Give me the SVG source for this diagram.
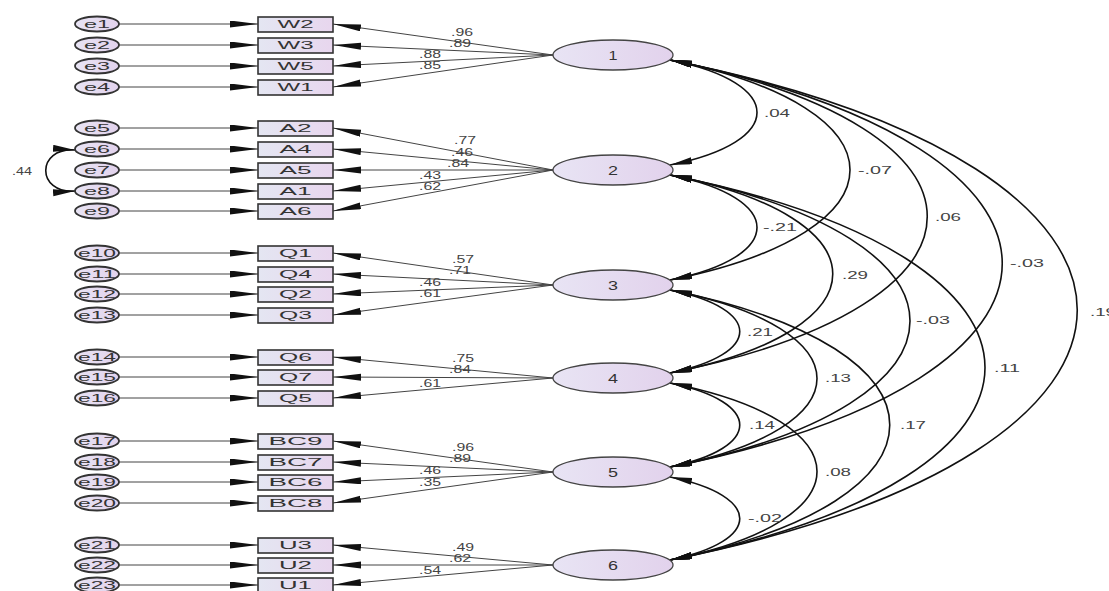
<svg xmlns="http://www.w3.org/2000/svg" width="1109" height="591" viewBox="0 0 1109 591">
<defs>
<linearGradient id="gb" x1="0" y1="0" x2="1" y2="0"><stop offset="0" stop-color="#e4e6f2"/><stop offset="1" stop-color="#e8d6ee"/></linearGradient>
<linearGradient id="ge" x1="0" y1="0" x2="1" y2="0"><stop offset="0" stop-color="#e8e4f4"/><stop offset="1" stop-color="#e2d2ec"/></linearGradient>
<marker id="arr" markerUnits="userSpaceOnUse" markerWidth="30" markerHeight="8" refX="28" refY="3.5" orient="auto"><path d="M0,0 L28,3.5 L0,7 z" fill="#111"/></marker>
<marker id="cov" markerUnits="userSpaceOnUse" markerWidth="24" markerHeight="8" refX="22" refY="3.5" orient="auto-start-reverse"><path d="M0,0 L22,3.5 L0,7 z" fill="#111"/></marker>
</defs>
<style>
.err{fill:url(#ge);stroke:#333;stroke-width:1.8}
.box{fill:url(#gb);stroke:#333;stroke-width:1.6}
.lat{fill:url(#ge);stroke:#444;stroke-width:1.3}
.t{font-family:"Liberation Sans",Arial,sans-serif;font-size:10px;fill:#333;text-anchor:middle}
.tb{font-family:"Liberation Sans",Arial,sans-serif;font-size:11px;fill:#333;text-anchor:middle}
.tf{font-family:"Liberation Sans",Arial,sans-serif;font-size:12px;fill:#333;text-anchor:middle}
.tl{font-family:"Liberation Sans",Arial,sans-serif;font-size:10px;fill:#444;text-anchor:middle}
.ln{stroke:#444;stroke-width:1;fill:none;marker-end:url(#arr)}
.cv{stroke:#111;stroke-width:1.6;fill:none;marker-start:url(#cov);marker-end:url(#cov)}
</style>
<rect width="1109" height="591" fill="#fff"/>
<g id="connectors">
<path class="ln" d="M119,24 H258"/><path class="ln" d="M119,45 H258"/><path class="ln" d="M119,66 H258"/><path class="ln" d="M119,87 H258"/>
<path class="ln" d="M119,128 H258"/><path class="ln" d="M119,149 H258"/><path class="ln" d="M119,170 H258"/><path class="ln" d="M119,191 H258"/><path class="ln" d="M119,211 H258"/>
<path class="ln" d="M119,253 H258"/><path class="ln" d="M119,274 H258"/><path class="ln" d="M119,294 H258"/><path class="ln" d="M119,315 H258"/>
<path class="ln" d="M119,357 H258"/><path class="ln" d="M119,377 H258"/><path class="ln" d="M119,398 H258"/>
<path class="ln" d="M119,441 H258"/><path class="ln" d="M119,462 H258"/><path class="ln" d="M119,482 H258"/><path class="ln" d="M119,503 H258"/>
<path class="ln" d="M119,545 H258"/><path class="ln" d="M119,565 H258"/><path class="ln" d="M119,585 H258"/>
<path class="ln" d="M553,55 L333,24"/><path class="ln" d="M553,55 L333,45"/><path class="ln" d="M553,55 L333,66"/><path class="ln" d="M553,55 L333,87"/>
<path class="ln" d="M553,170 L333,128"/><path class="ln" d="M553,170 L333,149"/><path class="ln" d="M553,170 L333,170"/><path class="ln" d="M553,170 L333,191"/><path class="ln" d="M553,170 L333,211"/>
<path class="ln" d="M553,285 L333,253"/><path class="ln" d="M553,285 L333,274"/><path class="ln" d="M553,285 L333,294"/><path class="ln" d="M553,285 L333,315"/>
<path class="ln" d="M553,378 L333,357"/><path class="ln" d="M553,378 L333,377"/><path class="ln" d="M553,378 L333,398"/>
<path class="ln" d="M553,472 L333,441"/><path class="ln" d="M553,472 L333,462"/><path class="ln" d="M553,472 L333,482"/><path class="ln" d="M553,472 L333,503"/>
<path class="ln" d="M553,565 L333,545"/><path class="ln" d="M553,565 L333,565"/><path class="ln" d="M553,565 L333,585"/>
<path class="cv" d="M75,150 C36,147 36,194 75,191"/>
<path class="cv" d="M670,60 C786,83 786,142 670,165"/>
<path class="cv" d="M670,60 C910,108 910,232 670,280"/>
<path class="cv" d="M670,60 C1013,129 1013,304 670,373"/>
<path class="cv" d="M670,60 C1113,149 1113,378 670,467"/>
<path class="cv" d="M670,60 C1213,169 1213,451 670,560"/>
<path class="cv" d="M670,175 C786,198 786,257 670,280"/>
<path class="cv" d="M670,175 C887,218 887,330 670,373"/>
<path class="cv" d="M670,175 C990,239 990,403 670,467"/>
<path class="cv" d="M670,175 C1090,259 1090,476 670,560"/>
<path class="cv" d="M670,290 C763,309 763,354 670,373"/>
<path class="cv" d="M670,290 C866,329 866,428 670,467"/>
<path class="cv" d="M670,290 C963,349 963,501 670,560"/>
<path class="cv" d="M670,383 C763,402 763,448 670,467"/>
<path class="cv" d="M670,383 C866,422 866,521 670,560"/>
<path class="cv" d="M670,477 C763,496 763,541 670,560"/>
<g class="tl">
<text x="462" y="36" textLength="22" lengthAdjust="spacingAndGlyphs">.96</text>
<text x="460" y="47" textLength="22" lengthAdjust="spacingAndGlyphs">.89</text>
<text x="430" y="58" textLength="22" lengthAdjust="spacingAndGlyphs">.88</text>
<text x="430" y="69" textLength="22" lengthAdjust="spacingAndGlyphs">.85</text>
<text x="465" y="144" textLength="22" lengthAdjust="spacingAndGlyphs">.77</text>
<text x="462" y="156" textLength="22" lengthAdjust="spacingAndGlyphs">.46</text>
<text x="458" y="167" textLength="22" lengthAdjust="spacingAndGlyphs">.84</text>
<text x="430" y="179" textLength="22" lengthAdjust="spacingAndGlyphs">.43</text>
<text x="430" y="190" textLength="22" lengthAdjust="spacingAndGlyphs">.62</text>
<text x="463" y="263" textLength="22" lengthAdjust="spacingAndGlyphs">.57</text>
<text x="460" y="274" textLength="22" lengthAdjust="spacingAndGlyphs">.71</text>
<text x="430" y="286" textLength="22" lengthAdjust="spacingAndGlyphs">.46</text>
<text x="430" y="297" textLength="22" lengthAdjust="spacingAndGlyphs">.61</text>
<text x="463" y="362" textLength="22" lengthAdjust="spacingAndGlyphs">.75</text>
<text x="460" y="373" textLength="22" lengthAdjust="spacingAndGlyphs">.84</text>
<text x="430" y="387" textLength="22" lengthAdjust="spacingAndGlyphs">.61</text>
<text x="463" y="451" textLength="22" lengthAdjust="spacingAndGlyphs">.96</text>
<text x="460" y="462" textLength="22" lengthAdjust="spacingAndGlyphs">.89</text>
<text x="430" y="474" textLength="22" lengthAdjust="spacingAndGlyphs">.46</text>
<text x="430" y="486" textLength="22" lengthAdjust="spacingAndGlyphs">.35</text>
<text x="463" y="551" textLength="22" lengthAdjust="spacingAndGlyphs">.49</text>
<text x="460" y="562" textLength="22" lengthAdjust="spacingAndGlyphs">.62</text>
<text x="430" y="574" textLength="22" lengthAdjust="spacingAndGlyphs">.54</text>
<text x="22" y="175" textLength="20" lengthAdjust="spacingAndGlyphs">.44</text>
<text x="777" y="117" textLength="26" lengthAdjust="spacingAndGlyphs">.04</text>
<text x="875" y="174" textLength="34" lengthAdjust="spacingAndGlyphs">-.07</text>
<text x="948" y="221" textLength="26" lengthAdjust="spacingAndGlyphs">.06</text>
<text x="1027" y="267" textLength="34" lengthAdjust="spacingAndGlyphs">-.03</text>
<text x="1103" y="316" textLength="26" lengthAdjust="spacingAndGlyphs">.19</text>
<text x="780" y="231" textLength="34" lengthAdjust="spacingAndGlyphs">-.21</text>
<text x="855" y="279" textLength="26" lengthAdjust="spacingAndGlyphs">.29</text>
<text x="933" y="324" textLength="34" lengthAdjust="spacingAndGlyphs">-.03</text>
<text x="1007" y="372" textLength="26" lengthAdjust="spacingAndGlyphs">.11</text>
<text x="760" y="336" textLength="26" lengthAdjust="spacingAndGlyphs">.21</text>
<text x="838" y="382" textLength="26" lengthAdjust="spacingAndGlyphs">.13</text>
<text x="913" y="429" textLength="26" lengthAdjust="spacingAndGlyphs">.17</text>
<text x="762" y="429" textLength="26" lengthAdjust="spacingAndGlyphs">.14</text>
<text x="838" y="476" textLength="26" lengthAdjust="spacingAndGlyphs">.08</text>
<text x="765" y="522" textLength="34" lengthAdjust="spacingAndGlyphs">-.02</text>
</g>
</g>
<g id="e1"><ellipse class="err" cx="97" cy="24" rx="22" ry="7.5"/><text class="tb" x="97" y="28" textLength="26" lengthAdjust="spacingAndGlyphs">e1</text></g>
<g id="e2"><ellipse class="err" cx="97" cy="45" rx="22" ry="7.5"/><text class="tb" x="97" y="49" textLength="26" lengthAdjust="spacingAndGlyphs">e2</text></g>
<g id="e3"><ellipse class="err" cx="97" cy="66" rx="22" ry="7.5"/><text class="tb" x="97" y="70" textLength="26" lengthAdjust="spacingAndGlyphs">e3</text></g>
<g id="e4"><ellipse class="err" cx="97" cy="87" rx="22" ry="7.5"/><text class="tb" x="97" y="91" textLength="26" lengthAdjust="spacingAndGlyphs">e4</text></g>
<g id="e5"><ellipse class="err" cx="97" cy="128" rx="22" ry="7.5"/><text class="tb" x="97" y="132" textLength="26" lengthAdjust="spacingAndGlyphs">e5</text></g>
<g id="e6"><ellipse class="err" cx="97" cy="149" rx="22" ry="7.5"/><text class="tb" x="97" y="153" textLength="26" lengthAdjust="spacingAndGlyphs">e6</text></g>
<g id="e7"><ellipse class="err" cx="97" cy="170" rx="22" ry="7.5"/><text class="tb" x="97" y="174" textLength="26" lengthAdjust="spacingAndGlyphs">e7</text></g>
<g id="e8"><ellipse class="err" cx="97" cy="191" rx="22" ry="7.5"/><text class="tb" x="97" y="195" textLength="26" lengthAdjust="spacingAndGlyphs">e8</text></g>
<g id="e9"><ellipse class="err" cx="97" cy="211" rx="22" ry="7.5"/><text class="tb" x="97" y="215" textLength="26" lengthAdjust="spacingAndGlyphs">e9</text></g>
<g id="e10"><ellipse class="err" cx="97" cy="253" rx="22" ry="7.5"/><text class="tb" x="97" y="257" textLength="38" lengthAdjust="spacingAndGlyphs">e10</text></g>
<g id="e11"><ellipse class="err" cx="97" cy="274" rx="22" ry="7.5"/><text class="tb" x="97" y="278" textLength="38" lengthAdjust="spacingAndGlyphs">e11</text></g>
<g id="e12"><ellipse class="err" cx="97" cy="294" rx="22" ry="7.5"/><text class="tb" x="97" y="298" textLength="38" lengthAdjust="spacingAndGlyphs">e12</text></g>
<g id="e13"><ellipse class="err" cx="97" cy="315" rx="22" ry="7.5"/><text class="tb" x="97" y="319" textLength="38" lengthAdjust="spacingAndGlyphs">e13</text></g>
<g id="e14"><ellipse class="err" cx="97" cy="357" rx="22" ry="7.5"/><text class="tb" x="97" y="361" textLength="38" lengthAdjust="spacingAndGlyphs">e14</text></g>
<g id="e15"><ellipse class="err" cx="97" cy="377" rx="22" ry="7.5"/><text class="tb" x="97" y="381" textLength="38" lengthAdjust="spacingAndGlyphs">e15</text></g>
<g id="e16"><ellipse class="err" cx="97" cy="398" rx="22" ry="7.5"/><text class="tb" x="97" y="402" textLength="38" lengthAdjust="spacingAndGlyphs">e16</text></g>
<g id="e17"><ellipse class="err" cx="97" cy="441" rx="22" ry="7.5"/><text class="tb" x="97" y="445" textLength="38" lengthAdjust="spacingAndGlyphs">e17</text></g>
<g id="e18"><ellipse class="err" cx="97" cy="462" rx="22" ry="7.5"/><text class="tb" x="97" y="466" textLength="38" lengthAdjust="spacingAndGlyphs">e18</text></g>
<g id="e19"><ellipse class="err" cx="97" cy="482" rx="22" ry="7.5"/><text class="tb" x="97" y="486" textLength="38" lengthAdjust="spacingAndGlyphs">e19</text></g>
<g id="e20"><ellipse class="err" cx="97" cy="503" rx="22" ry="7.5"/><text class="tb" x="97" y="507" textLength="38" lengthAdjust="spacingAndGlyphs">e20</text></g>
<g id="e21"><ellipse class="err" cx="97" cy="545" rx="22" ry="7.5"/><text class="tb" x="97" y="549" textLength="38" lengthAdjust="spacingAndGlyphs">e21</text></g>
<g id="e22"><ellipse class="err" cx="97" cy="565" rx="22" ry="7.5"/><text class="tb" x="97" y="569" textLength="38" lengthAdjust="spacingAndGlyphs">e22</text></g>
<g id="e23"><ellipse class="err" cx="97" cy="585" rx="22" ry="7.5"/><text class="tb" x="97" y="589" textLength="38" lengthAdjust="spacingAndGlyphs">e23</text></g>
<g id="W2"><rect class="box" x="258" y="17" width="75" height="15"/><text class="t" x="295.5" y="28" textLength="36" lengthAdjust="spacingAndGlyphs">W2</text></g>
<g id="W3"><rect class="box" x="258" y="38" width="75" height="15"/><text class="t" x="295.5" y="49" textLength="36" lengthAdjust="spacingAndGlyphs">W3</text></g>
<g id="W5"><rect class="box" x="258" y="59" width="75" height="15"/><text class="t" x="295.5" y="70" textLength="36" lengthAdjust="spacingAndGlyphs">W5</text></g>
<g id="W1"><rect class="box" x="258" y="80" width="75" height="15"/><text class="t" x="295.5" y="91" textLength="36" lengthAdjust="spacingAndGlyphs">W1</text></g>
<g id="A2"><rect class="box" x="258" y="121" width="75" height="15"/><text class="t" x="295.5" y="132" textLength="32" lengthAdjust="spacingAndGlyphs">A2</text></g>
<g id="A4"><rect class="box" x="258" y="142" width="75" height="15"/><text class="t" x="295.5" y="153" textLength="32" lengthAdjust="spacingAndGlyphs">A4</text></g>
<g id="A5"><rect class="box" x="258" y="163" width="75" height="15"/><text class="t" x="295.5" y="174" textLength="32" lengthAdjust="spacingAndGlyphs">A5</text></g>
<g id="A1"><rect class="box" x="258" y="184" width="75" height="15"/><text class="t" x="295.5" y="195" textLength="32" lengthAdjust="spacingAndGlyphs">A1</text></g>
<g id="A6"><rect class="box" x="258" y="204" width="75" height="15"/><text class="t" x="295.5" y="215" textLength="32" lengthAdjust="spacingAndGlyphs">A6</text></g>
<g id="Q1"><rect class="box" x="258" y="246" width="75" height="15"/><text class="t" x="295.5" y="257" textLength="33" lengthAdjust="spacingAndGlyphs">Q1</text></g>
<g id="Q4"><rect class="box" x="258" y="267" width="75" height="15"/><text class="t" x="295.5" y="278" textLength="33" lengthAdjust="spacingAndGlyphs">Q4</text></g>
<g id="Q2"><rect class="box" x="258" y="287" width="75" height="15"/><text class="t" x="295.5" y="298" textLength="33" lengthAdjust="spacingAndGlyphs">Q2</text></g>
<g id="Q3"><rect class="box" x="258" y="308" width="75" height="15"/><text class="t" x="295.5" y="319" textLength="33" lengthAdjust="spacingAndGlyphs">Q3</text></g>
<g id="Q6"><rect class="box" x="258" y="350" width="75" height="15"/><text class="t" x="295.5" y="361" textLength="33" lengthAdjust="spacingAndGlyphs">Q6</text></g>
<g id="Q7"><rect class="box" x="258" y="370" width="75" height="15"/><text class="t" x="295.5" y="381" textLength="33" lengthAdjust="spacingAndGlyphs">Q7</text></g>
<g id="Q5"><rect class="box" x="258" y="391" width="75" height="15"/><text class="t" x="295.5" y="402" textLength="33" lengthAdjust="spacingAndGlyphs">Q5</text></g>
<g id="BC9"><rect class="box" x="258" y="434" width="75" height="15"/><text class="t" x="295.5" y="445" textLength="54" lengthAdjust="spacingAndGlyphs">BC9</text></g>
<g id="BC7"><rect class="box" x="258" y="455" width="75" height="15"/><text class="t" x="295.5" y="466" textLength="54" lengthAdjust="spacingAndGlyphs">BC7</text></g>
<g id="BC6"><rect class="box" x="258" y="475" width="75" height="15"/><text class="t" x="295.5" y="486" textLength="54" lengthAdjust="spacingAndGlyphs">BC6</text></g>
<g id="BC8"><rect class="box" x="258" y="496" width="75" height="15"/><text class="t" x="295.5" y="507" textLength="54" lengthAdjust="spacingAndGlyphs">BC8</text></g>
<g id="U3"><rect class="box" x="258" y="538" width="75" height="15"/><text class="t" x="295.5" y="549" textLength="33" lengthAdjust="spacingAndGlyphs">U3</text></g>
<g id="U2"><rect class="box" x="258" y="558" width="75" height="15"/><text class="t" x="295.5" y="569" textLength="33" lengthAdjust="spacingAndGlyphs">U2</text></g>
<g id="U1"><rect class="box" x="258" y="578" width="75" height="15"/><text class="t" x="295.5" y="589" textLength="33" lengthAdjust="spacingAndGlyphs">U1</text></g>
<g id="F1"><ellipse class="lat" cx="613" cy="55" rx="60" ry="15"/><text class="tf" x="613" y="60" textLength="9" lengthAdjust="spacingAndGlyphs">1</text></g>
<g id="F2"><ellipse class="lat" cx="613" cy="170" rx="60" ry="15"/><text class="tf" x="613" y="175" textLength="10" lengthAdjust="spacingAndGlyphs">2</text></g>
<g id="F3"><ellipse class="lat" cx="613" cy="285" rx="60" ry="15"/><text class="tf" x="613" y="290" textLength="10" lengthAdjust="spacingAndGlyphs">3</text></g>
<g id="F4"><ellipse class="lat" cx="613" cy="378" rx="60" ry="15"/><text class="tf" x="613" y="383" textLength="10" lengthAdjust="spacingAndGlyphs">4</text></g>
<g id="F5"><ellipse class="lat" cx="613" cy="472" rx="60" ry="15"/><text class="tf" x="613" y="477" textLength="10" lengthAdjust="spacingAndGlyphs">5</text></g>
<g id="F6"><ellipse class="lat" cx="613" cy="565" rx="60" ry="15"/><text class="tf" x="613" y="570" textLength="10" lengthAdjust="spacingAndGlyphs">6</text></g>
</svg>
